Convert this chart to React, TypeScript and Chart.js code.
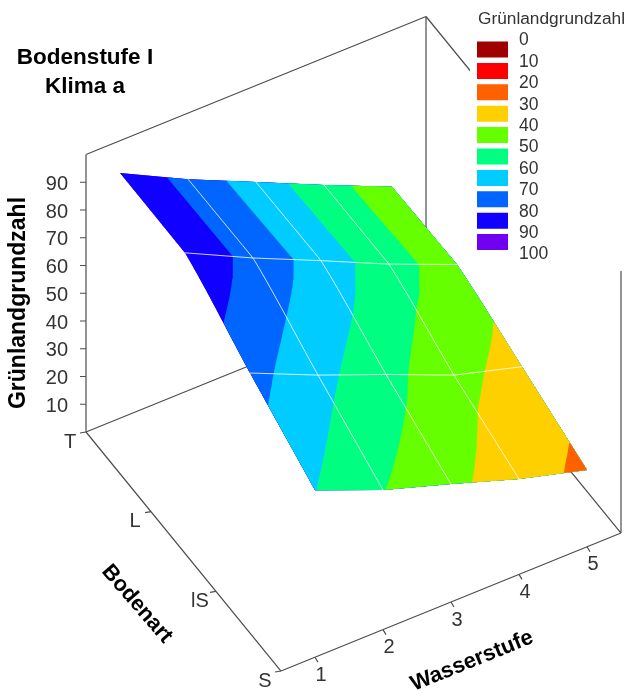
import React, { useEffect, useRef } from "react";
import { Chart, registerables } from "chart.js";

Chart.register(...registerables);

// ---- data ----
const wasserstufen = [1, 2, 3, 4, 5];
const bodenarten = ["T", "L", "lS", "S"];
const rowT = [88.4, 76.2, 65.2, 54.2, 43.6];
const rowL = [88.3, 76.5, 65.6, 54.4, 44.3];
const rowLS = [73.7, 63.0, 53.3, 43.1, 36.2];
const rowS = [60.2, 50.3, 42.5, 34.4, 27.7];
const zTicks = [10, 20, 30, 40, 50, 60, 70, 80, 90];
const legendLevels = [0, 10, 20, 30, 40, 50, 60, 70, 80, 90, 100];
const bandColors = ["#A00000", "#FF0000", "#FF6000", "#FFD000", "#66FF00", "#00FF80", "#00CCFF", "#0066FF", "#1000FF", "#7000F0"];

const rows = [rowT, rowL, rowLS, rowS];
type Pt = { x: number; y: number } | { x: null; y: null };

// orthographic projection of the 3D box onto the chart's x / y scales
const project = (w: number, b: number, z: number) => ({
  x: 86 + (w - 0.5) * 68 + b * 65,
  y: 432 - (w - 0.5) * 27.6 + b * 79.67 - z * 2.775,
});

function columnAt(b: number): number[] {
  return wasserstufen.map((_, i) => {
    if (b <= 1) return rows[0][i] + (rows[1][i] - rows[0][i]) * b;
    if (b >= 2) return rows[2][i] + (rows[3][i] - rows[2][i]) * (b - 2);
    const t = b - 1;
    const p0 = rows[0][i];
    const p1 = rows[1][i];
    const p2 = rows[2][i];
    const p3 = rows[3][i];
    const curved = 0.5 * (2 * p1 + (p2 - p0) * t + (2 * p0 - 5 * p1 + 4 * p2 - p3) * t * t + (3 * p1 - p0 - 3 * p2 + p3) * t * t * t);
    const straight = p1 + (p2 - p1) * t;
    return 0.5 * (curved + straight);
  });
}

function surf(w: number, b: number) {
  const col = columnAt(b);
  const i = Math.min(Math.floor(w - 1), 3);
  const z = col[i] + (col[i + 1] - col[i]) * (w - 1 - i);
  return project(w, b, z);
}

function wForLevel(level: number, b: number) {
  const c = columnAt(b);
  if (level >= c[0]) return 1;
  if (level <= c[4]) return 5;
  for (let i = 0; i < 4; i++) {
    if (level <= c[i] && level >= c[i + 1]) return i + 1 + (c[i] - level) / (c[i] - c[i + 1]);
  }
  return 5;
}

function bSamples() {
  const out: number[] = [];
  for (let i = 0; i <= 150; i++) out.push(i * 0.02);
  return out;
}

// region of the surface with z <= level
function regionBelow(level: number) {
  const active = bSamples()
    .map((b) => ({ b, w: wForLevel(level, b) }))
    .filter((s) => s.w < 5);
  if (!active.length) return [];
  const pts = active.map((s) => surf(s.w, s.b));
  const last = active[active.length - 1];
  if (last.b >= 3 - 1e-6) wasserstufen.filter((w) => w > last.w).forEach((w) => pts.push(surf(w, 3)));
  [...active].reverse().forEach((s) => pts.push(surf(5, s.b)));
  const first = active[0];
  if (first.b <= 1e-6) [...wasserstufen].reverse().filter((w) => w > first.w && w < 5).forEach((w) => pts.push(surf(w, 0)));
  return pts;
}

function lineDs(data: Pt[], color: string, width = 1) {
  return { type: "scatter", data, showLine: true, borderColor: color, borderWidth: width, pointRadius: 0, tension: 0, fill: false, spanGaps: false, clip: false };
}
function fillDs(data: Pt[], color: string) {
  return { type: "scatter", data, showLine: true, borderColor: color, borderWidth: 0, backgroundColor: color, pointRadius: 0, tension: 0, fill: "shape", clip: false };
}

function rect(x0: number, y0: number, x1: number, y1: number): Pt[] {
  return [{ x: x0, y: y0 }, { x: x1, y: y0 }, { x: x1, y: y1 }, { x: x0, y: y1 }, { x: x0, y: y0 }];
}

const GAP: Pt = { x: null, y: null };
const LINE = "#4d4d4d";

function tickDs() {
  const segs: Pt[] = [];
  const add = (p: { x: number; y: number }, dx: number, dy: number) => {
    segs.push(p, { x: p.x + dx, y: p.y + dy }, GAP);
  };
  zTicks.forEach((z) => add(project(0.5, 0, z), -6, 0));
  bodenarten.forEach((_, i) => add(project(0.5, i, 0), -6, 1));
  wasserstufen.forEach((w) => add(project(w, 3, 0), 3, 5));
  return lineDs(segs, LINE, 1.2);
}

function buildDatasets() {
  const out: any[] = [tickDs()];
  // legend swatches (top)
  bandColors.forEach((c, i) => {
    const y = 41.5 + i * 21.4;
    out.push(fillDs(rect(477, y, 508, y + 16), c));
  });
  // white grid on the surface
  [2, 3, 4].forEach((w) => {
    out.push(lineDs(bSamples().filter((_, i) => i % 3 === 0).map((b) => surf(w, b)), "rgba(255,255,255,0.8)", 1));
  });
  [1, 2].forEach((b) => {
    out.push(lineDs(wasserstufen.map((w) => surf(w, b)), "rgba(255,255,255,0.8)", 1));
  });
  // bands: lowest on top, each painted as "everything at or below its upper bound"
  bandColors.forEach((c, i) => {
    out.push(fillDs(regionBelow(legendLevels[i + 1]), c));
  });
  // white panel behind the legend
  out.push(fillDs(rect(470, 0, 627, 271), "#FFFFFF"));
  // box
  const boxSegs: Pt[] = [];
  const seg = (a: [number, number, number], b: [number, number, number]) => {
    boxSegs.push(project(...a), project(...b), GAP);
  };
  const W0 = 0.5, W1 = 5.5, B1 = 3;
  seg([W0, 0, 0], [W0, 0, 100]);
  seg([W0, 0, 100], [W1, 0, 100]);
  seg([W1, 0, 0], [W1, 0, 100]);
  seg([W1, 0, 100], [W1, B1, 100]);
  seg([W1, B1, 0], [W1, B1, 100]);
  seg([W0, 0, 0], [W1, 0, 0]);
  seg([W0, 0, 0], [W0, B1, 0]);
  seg([W0, B1, 0], [W1, B1, 0]);
  seg([W1, 0, 0], [W1, B1, 0]);
  out.push(lineDs(boxSegs, LINE, 1.2));
  return out;
}

const textPlugin = {
  id: "boxText",
  afterDraw(chart: any) {
    const { ctx, scales } = chart;
    const X = (v: number) => scales.x.getPixelForValue(v);
    const Y = (v: number) => scales.y.getPixelForValue(v);
    const put = (s: string, x: number, y: number, font: string, color: string, align: CanvasTextAlign = "center", rot = 0) => {
      ctx.save();
      ctx.translate(X(x), Y(y));
      ctx.rotate((rot * Math.PI) / 180);
      ctx.font = font;
      ctx.fillStyle = color;
      ctx.textAlign = align;
      ctx.textBaseline = "middle";
      ctx.fillText(s, 0, 0);
      ctx.restore();
    };
    const FF = '"Liberation Sans", Arial, sans-serif';
    const tick = `20px ${FF}`;
    const c = "#333333";
    zTicks.forEach((z) => {
      const p = project(0.5, 0, z);
      put(String(z), p.x - 18, p.y + 2, tick, c, "right");
    });
    bodenarten.forEach((s, i) => {
      const p = project(0.5, i, 0);
      put(s, p.x - 16, p.y + 10, tick, c);
    });
    wasserstufen.forEach((w) => {
      const p = project(w, 3, 0);
      put(String(w), p.x + 6, p.y + 18, tick, c);
    });
    put("Bodenstufe I", 85, 58, `bold 22.5px ${FF}`, "#000000");
    put("Klima a", 85, 87, `bold 22.5px ${FF}`, "#000000");
    put("Grünlandgrundzahl", 19, 303, `bold 23px ${FF}`, "#000000", "center", -90);
    put("Bodenart", 137, 604, `bold 21.8px ${FF}`, "#000000", "center", 49);
    put("Wasserstufe", 472, 661, `bold 22px ${FF}`, "#000000", "center", -22);
    put("Grünlandgrundzahl", 478, 19, `17.3px ${FF}`, c, "left");
    legendLevels.forEach((l, i) => put(String(l), 519, 40.5 + i * 21.4, `17.5px ${FF}`, c, "left"));
  },
};

export default function App() {
  const ref = useRef<HTMLCanvasElement>(null);
  useEffect(() => {
    document.body.style.margin = "0";
    const chart = new Chart(ref.current as HTMLCanvasElement, {
      type: "scatter",
      data: { datasets: buildDatasets() },
      plugins: [textPlugin],
      options: {
        responsive: false,
        animation: false,
        devicePixelRatio: 1,
        layout: { padding: 0 },
        plugins: { legend: { display: false }, title: { display: false }, tooltip: { enabled: false } },
        scales: {
          x: { type: "linear", min: 0, max: 627, display: false },
          y: { type: "linear", min: 0, max: 693, reverse: true, display: false },
        },
      },
    } as any);
    return () => chart.destroy();
  }, []);
  return (
    <div style={{ position: "absolute", left: 0, top: 0, width: 627, height: 693, background: "#fff" }}>
      <canvas ref={ref} width={627} height={693} style={{ display: "block" }} />
    </div>
  );
}
